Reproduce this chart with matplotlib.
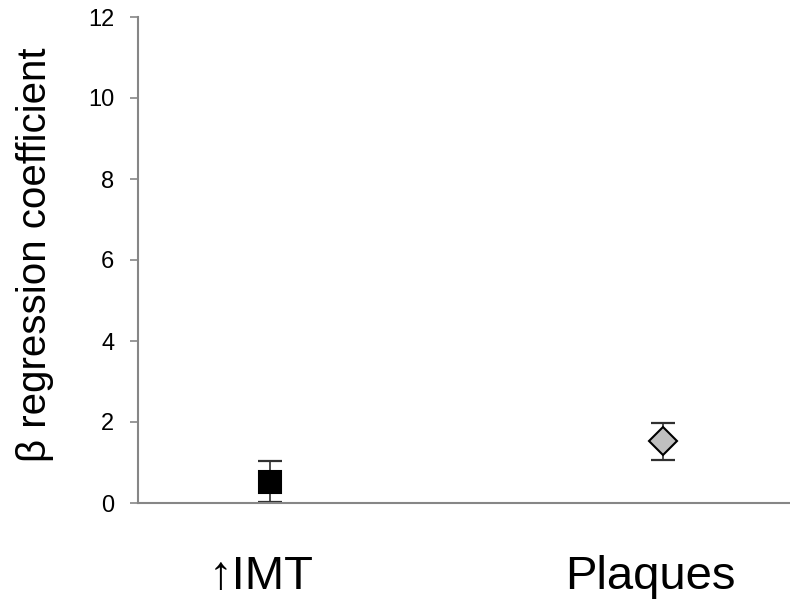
import matplotlib
matplotlib.use("Agg")
import matplotlib.pyplot as plt

# data
categories = ["\u2191IMT", "Plaques"]
beta = [0.52, 1.53]
err_low = [0.02, 1.07]
err_high = [1.04, 1.98]
markers = ["s", "D"]
face_colors = ["#000000", "#c0c0c0"]
y_ticks = [0, 2, 4, 6, 8, 10, 12]

plt.rcParams["font.family"] = ["Liberation Sans", "DejaVu Sans"]

fig = plt.figure(figsize=(7.9, 6), dpi=100)
ax = fig.add_axes([138 / 790, 97 / 600, 652 / 790, 486 / 600])

for i, cat in enumerate(categories):
    lo = beta[i] - err_low[i]
    hi = err_high[i] - beta[i]
    ax.errorbar(i, beta[i], yerr=[[lo], [hi]], fmt="none", ecolor="#303030",
                elinewidth=1.2, capsize=8.5, capthick=1.6, zorder=2)
    ax.plot(i, beta[i], marker=markers[i], markersize=15.5 if markers[i] == "s" else 14,
            markerfacecolor=face_colors[i], markeredgecolor="black",
            markeredgewidth=1.5, linestyle="none", zorder=3)

ax.set_xlim(-0.336, 1.323)
ax.set_ylim(0, 12)
ax.set_yticks(y_ticks)
ax.set_xticks([])
ax.tick_params(axis="y", direction="out", length=6, width=1.2, color="#868686",
               labelsize=17, pad=11)

for side in ["top", "right"]:
    ax.spines[side].set_visible(False)
for side in ["left", "bottom"]:
    ax.spines[side].set_color("#868686")
    ax.spines[side].set_linewidth(1.5)

fig.text(35 / 790, 1 - 255 / 600, "\u03b2 regression coefficient", rotation=90,
         ha="center", va="center", fontsize=29)

label_x = [261, 650]
for cat, xp in zip(categories, label_x):
    fig.text(xp / 790, 1 - 589 / 600, cat, ha="center", va="baseline", fontsize=34)

fig.savefig("out.png", dpi=100)
